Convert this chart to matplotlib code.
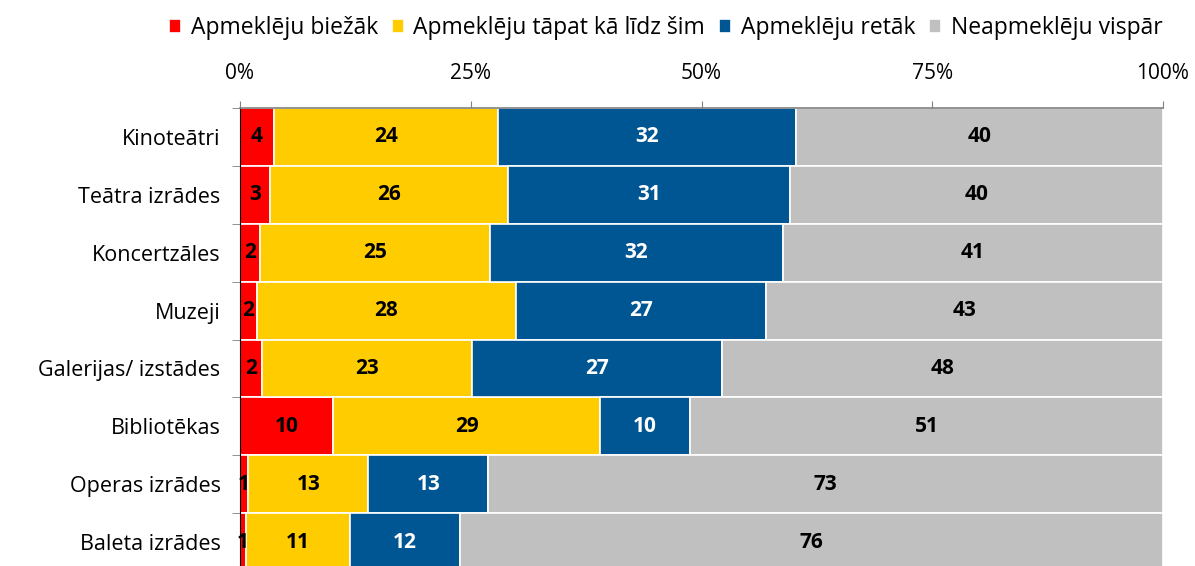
import numpy as np
import matplotlib.pyplot as plt

# categories top to bottom
categories = ['Kinoteātri', 'Teātra izrādes', 'Koncertzāles', 'Muzeji',
              'Galerijas/ izstādes', 'Bibliotēkas', 'Operas izrādes', 'Baleta izrādes']
series_names = ['Apmeklēju biežāk', 'Apmeklēju tāpat kā līdz šim',
                'Apmeklēju retāk', 'Neapmeklēju vispār']

# segment widths (%)
biezak = [3.7, 3.3, 2.2, 1.8, 2.4, 10.1, 0.9, 0.7]
tapat = [24.3, 25.7, 24.9, 28.1, 22.7, 28.9, 13.0, 11.2]
retak = [32.2, 30.6, 31.7, 27.1, 27.1, 9.8, 13.0, 11.9]
nemaz = [39.8, 40.4, 41.2, 43.0, 47.8, 51.2, 73.1, 76.2]

# printed labels
lbl_biezak = [4, 3, 2, 2, 2, 10, 1, 1]
lbl_tapat = [24, 26, 25, 28, 23, 29, 13, 11]
lbl_retak = [32, 31, 32, 27, 27, 10, 13, 12]
lbl_nemaz = [40, 40, 41, 43, 48, 51, 73, 76]

colors = ['#FF0000', '#FFCC00', '#005593', '#C0C0C0']
text_colors = ['black', 'black', 'white', 'black']

plt.rcParams['font.family'] = ['Open Sans', 'DejaVu Sans']

fig = plt.figure(figsize=(11.95, 5.66), dpi=100)
ax = fig.add_axes([240 / 1195, (566 - 571) / 566, 923 / 1195, 463 / 566])

y = np.arange(len(categories))
left = np.zeros(len(categories))
for vals, labels, col, tcol, name in zip([biezak, tapat, retak, nemaz],
                                         [lbl_biezak, lbl_tapat, lbl_retak, lbl_nemaz],
                                         colors, text_colors, series_names):
    vals = np.array(vals)
    ax.barh(y, vals, left=left, height=1.0, color=col, edgecolor='white',
            linewidth=1.2, label=name)
    for yi, l, v, lab in zip(y, left, vals, labels):
        ax.text(l + v / 2, yi, str(lab), ha='center', va='center',
                fontsize=15, fontweight='bold', color=tcol)
    left = left + vals

ax.set_xlim(0, 100)
ax.set_ylim(len(categories) - 0.5, -0.5)
ax.xaxis.tick_top()
ax.set_xticks([0, 25, 50, 75, 100])
ax.set_xticklabels(['0%', '25%', '50%', '75%', '100%'], fontsize=15)
ax.tick_params(axis='x', length=5, color='#808080', pad=12)
ax.set_yticks(y)
ax.set_yticklabels(categories, fontsize=15.5)
ax.set_yticks(np.arange(len(categories) + 1) - 0.5, minor=True)
ax.tick_params(axis='y', which='major', length=0, pad=14)
ax.tick_params(axis='y', which='minor', length=6, color='#808080')
ax.axvline(100, color='#D9D9D9', linestyle='--', linewidth=1, zorder=0)

for side in ['right', 'bottom']:
    ax.spines[side].set_visible(False)
ax.spines['top'].set_color('#808080')
ax.spines['top'].set_linewidth(1.2)
ax.spines['left'].set_color('black')

fig.legend(loc='upper right', bbox_to_anchor=(1183 / 1195, 1.008), ncol=4,
           frameon=False, fontsize=16.5, handlelength=0.55, handleheight=0.55,
           handletextpad=0.4, columnspacing=0.6)

fig.savefig('out.png', dpi=100)
